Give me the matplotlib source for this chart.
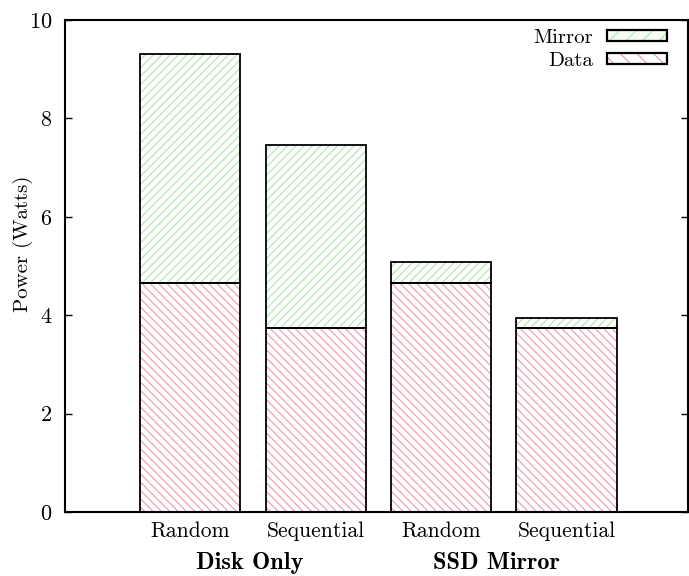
import matplotlib.pyplot as plt
import matplotlib.transforms as mtransforms
from matplotlib.patches import Patch
import numpy as np

plt.rcParams['font.family'] = 'cmr10'
plt.rcParams['axes.formatter.use_mathtext'] = True
plt.rcParams['hatch.linewidth'] = 0.9

# data
categories = ['Random', 'Sequential', 'Random', 'Sequential']
groups = ['Disk Only', 'SSD Mirror']
data = [4.65, 3.73, 4.65, 3.73]
mirror = [4.65, 3.73, 0.43, 0.21]

x = np.arange(1, len(categories) + 1)
width = 0.8
red = '#f2a2b2'
green = '#b4e8b4'
red_hatch = '\\\\\\\\'
green_hatch = '////'

fig = plt.figure(figsize=(6.89, 5.76), dpi=100)
ax = fig.add_axes([0.0943, 0.1111, 0.9043, 0.8542])

# hatched fills
ax.bar(x, data, width, color='none', edgecolor=red, hatch=red_hatch, linewidth=0)
ax.bar(x, mirror, width, bottom=data, color='none', edgecolor=green, hatch=green_hatch, linewidth=0)
# outlines
ax.bar(x, data, width, color='none', edgecolor='k', linewidth=1.3)
ax.bar(x, mirror, width, bottom=data, color='none', edgecolor='k', linewidth=1.3)

# legend handles: coloured hatch + black frame overlaid
h_mirror = (Patch(facecolor='#f4fcf4', edgecolor=green, hatch='//', linewidth=0),
            Patch(facecolor='none', edgecolor='k', linewidth=1.6))
h_data = (Patch(facecolor='none', edgecolor=red, hatch='\\\\', linewidth=0),
          Patch(facecolor='none', edgecolor='k', linewidth=1.6))
leg = ax.legend([h_mirror, h_data], ['Mirror', 'Data'], loc='upper right',
                bbox_to_anchor=(0.966, 0.982),
                frameon=False, markerfirst=False, fontsize=15,
                handlelength=2.85, handleheight=0.48, labelspacing=0.25,
                borderpad=0, borderaxespad=0, handletextpad=0.7)

ax.set_xlim(0, 4.97)
ax.set_ylim(0, 10)
ax.set_yticks([0, 2, 4, 6, 8, 10])
ax.set_xticks(x)
ax.set_xticklabels(categories, fontsize=15.5)
ax.tick_params(axis='x', length=0, pad=7)
ax.tick_params(axis='y', direction='in', length=5, width=1, right=True, labelsize=16, pad=9)
for s in ax.spines.values():
    s.set_linewidth(1.5)

ax.set_ylabel('Power (Watts)', fontsize=15)
ax.yaxis.set_label_coords(-0.052, 0.545)

trans = mtransforms.blended_transform_factory(ax.transData, ax.transAxes)
ax.text(1.47, -0.104, groups[0], transform=trans, ha='center', va='center',
        fontsize=17.5, family='cmb10')
ax.text(3.44, -0.104, groups[1], transform=trans, ha='center', va='center',
        fontsize=17.5, family='cmb10')

fig.savefig('out.png', dpi=100)
